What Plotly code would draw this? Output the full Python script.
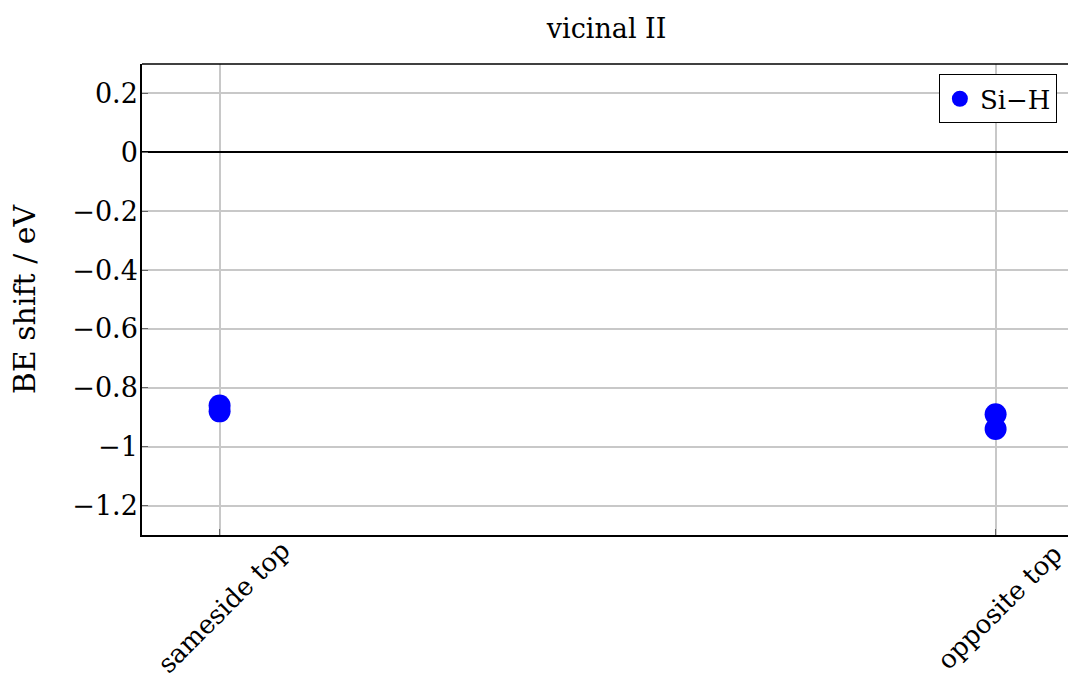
import plotly.graph_objects as go

# Binding-energy shifts of the Si-H species, two configurations per site
categories = ["sameside top", "opposite top"]
sameside_values = [-0.86, -0.88]
opposite_values = [-0.89, -0.94]
y_ticks = [0.2, 0, -0.2, -0.4, -0.6, -0.8, -1, -1.2]
y_tick_labels = ["0.2", "0", "−0.2", "−0.4", "−0.6", "−0.8", "−1", "−1.2"]

xs = [categories[0]] * len(sameside_values) + [categories[1]] * len(opposite_values)
ys = sameside_values + opposite_values

FONT = "DejaVu Serif"
SIZE = 27

fig = go.Figure()
fig.add_trace(go.Scatter(
    x=xs, y=ys, mode="markers", name="Si−H",
    marker=dict(color="#0000ff", size=22, line=dict(width=0)),
))

fig.update_layout(
    width=1068, height=681,
    margin=dict(l=142, r=0, t=64, b=146),
    paper_bgcolor="white", plot_bgcolor="white",
    font=dict(family=FONT, size=SIZE, color="black"),
    title=dict(text="vicinal II", x=0.568, xanchor="center", y=0.958, yanchor="middle",
               font=dict(family=FONT, size=SIZE)),
    showlegend=True,
    legend=dict(x=0.988, xanchor="right", y=0.978, yanchor="top",
                bordercolor="black", borderwidth=1, bgcolor="white",
                font=dict(family=FONT, size=SIZE - 1), itemwidth=30,
                tracegroupgap=0),
)

fig.update_xaxes(
    type="category", categoryorder="array", categoryarray=categories,
    range=[-0.1, 1.0933],
    showticklabels=False,
    showgrid=True, gridcolor="#c8c8c8", gridwidth=1.5,
    showline=True, linecolor="black", linewidth=1.5, mirror=False,
    ticks="inside", ticklen=6, tickcolor="#666666",
    zeroline=False,
)
fig.update_yaxes(
    range=[-1.3, 0.3],
    tickvals=y_ticks, ticktext=y_tick_labels,
    ticklabelstandoff=-3,
    showgrid=True, gridcolor="#c8c8c8", gridwidth=1.5,
    showline=True, linecolor="black", linewidth=1.5, mirror=False,
    ticks="inside", ticklen=6, tickcolor="#666666",
    zeroline=True, zerolinecolor="black", zerolinewidth=2,
    title=dict(text="BE shift / eV", font=dict(family=FONT, size=30), standoff=28),
)

# category labels, rotated about their centres below each tick
for cat in categories:
    fig.add_annotation(x=cat, xref="x", y=-0.153, yref="paper",
                       text=cat, textangle=-45, showarrow=False,
                       xanchor="center", yanchor="middle", xshift=4,
                       font=dict(family=FONT, size=26))

# top frame edge
fig.add_shape(type="line", xref="paper", yref="paper", x0=0, x1=1, y0=1, y1=1,
              line=dict(color="black", width=1.5))

fig.write_html("out.html")
